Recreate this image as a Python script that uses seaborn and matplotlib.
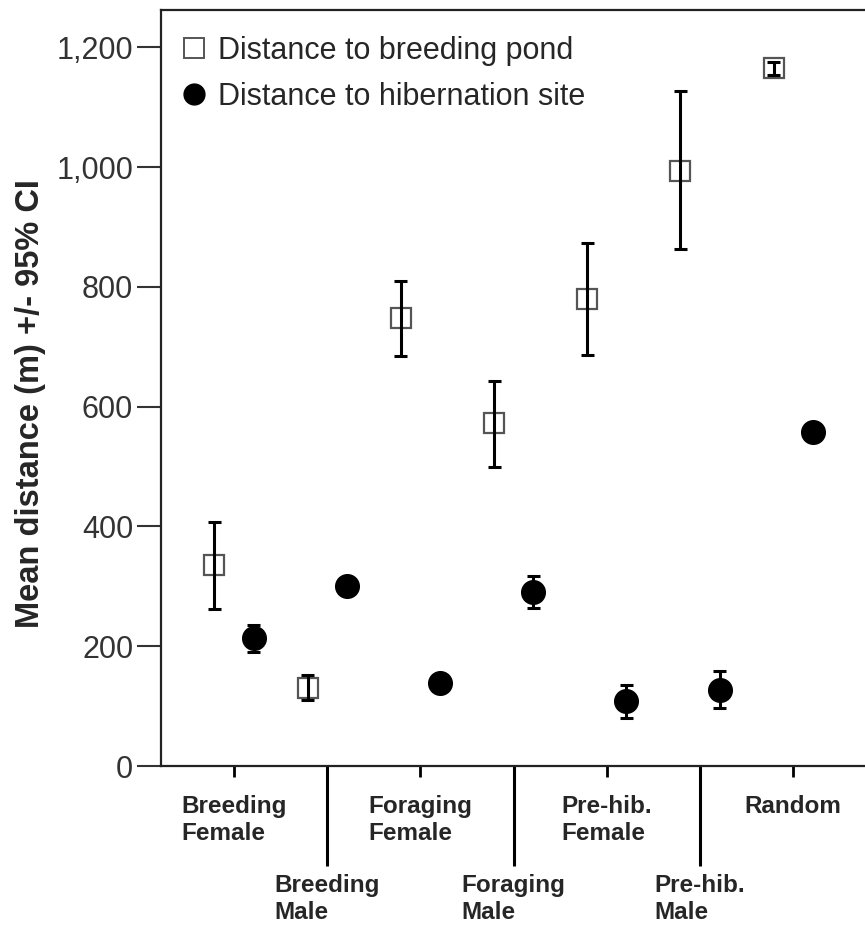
import numpy as np
import pandas as pd
import seaborn as sns
import matplotlib
matplotlib.use("Agg")
import matplotlib.pyplot as plt
from matplotlib.lines import Line2D
from matplotlib.ticker import FuncFormatter, FixedLocator

categories = ["Breeding\nFemale", "Breeding\nMale", "Foraging\nFemale", "Foraging\nMale",
              "Pre-hib.\nFemale", "Pre-hib.\nMale", "Random"]
series = ["Distance to breeding pond", "Distance to hibernation site"]

pond_mean = [335, 131, 748, 572, 780, 993, 1165]
pond_lo = [262, 110, 685, 500, 687, 863, 1153]
pond_hi = [408, 152, 810, 642, 873, 1127, 1175]

hib_mean = [213, 300, 138, 290, 108, 127, 558]
hib_lo = [190, 292, 128, 263, 80, 97, 552]
hib_hi = [235, 308, 148, 317, 135, 158, 564]

yticks = [0, 200, 400, 600, 800, 1000, 1200]

rows = []
for i, c in enumerate(categories):
    for s, lo, m, hi in [(series[0], pond_lo, pond_mean, pond_hi),
                         (series[1], hib_lo, hib_mean, hib_hi)]:
        for v in (lo[i], m[i], hi[i]):
            rows.append({"cat": c, "series": s, "value": v})
df = pd.DataFrame(rows)

sns.set_theme(style="white")
plt.rcParams["font.family"] = ["Liberation Sans", "DejaVu Sans"]

W, H = 865, 940
L, R, T, B = 161, 865, 9.5, 766
fig = plt.figure(figsize=(W / 100, H / 100), dpi=100)
ax = fig.add_axes([L / W, (H - B) / H, (R - L) / W, (B - T) / H])

sns.pointplot(data=df, x="cat", y="value", hue="series", order=categories, hue_order=series,
              estimator=np.median, errorbar=("pi", 100), palette=["black", "black"],
              markers=["s", "o"], linestyle="none", dodge=0.42, capsize=0.14,
              err_kws={"linewidth": 2.2}, legend=False, ax=ax)

for ln in ax.lines:
    mk = ln.get_marker()
    if mk == "s":
        ln.set_markerfacecolor("white")
        ln.set_markeredgecolor("#555555")
        ln.set_markeredgewidth(1.6)
        ln.set_markersize(14.5)
        ln.set_zorder(3)
    elif mk == "o":
        ln.set_markerfacecolor("black")
        ln.set_markeredgecolor("black")
        ln.set_markersize(16)
        ln.set_zorder(3)
    else:
        ln.set_solid_capstyle("butt")
        ln.set_zorder(4)

ax.set_xlim(-0.783, 6.77)
ax.set_ylim(0, 1263)

ax.yaxis.set_major_locator(FixedLocator(yticks))
ax.yaxis.set_major_formatter(FuncFormatter(lambda v, p: f"{int(v):,}"))
ax.tick_params(axis="y", which="major", direction="out", length=17, width=1.5,
               color="#333333", labelsize=22, labelcolor="#333333", pad=3, left=True)

major_idx = [0, 2, 4, 6]
minor_idx = [1, 3, 5]
ax.set_xticks(major_idx)
ax.set_xticklabels([categories[i] for i in major_idx])
ax.set_xticks(minor_idx, minor=True)
ax.set_xticklabels([categories[i] for i in minor_idx], minor=True)
for t in ax.get_xticklabels(which="major") + ax.get_xticklabels(which="minor"):
    t.set_fontsize(17.5)
    t.set_fontweight("bold")
    t.set_linespacing(1.2)
    t.set_verticalalignment("top")
    t.set_multialignment("left")
ax.tick_params(axis="x", which="major", direction="out", length=8, width=2,
               color="black", pad=13, bottom=True)
ax.tick_params(axis="x", which="minor", direction="out", length=72, width=2.2,
               color="black", pad=6, bottom=True)

ax.set_xlabel("")
ax.set_ylabel("Mean distance (m) +/- 95% CI", fontsize=23.5, fontweight="bold")
ax.yaxis.set_label_coords((46 - L) / (R - L), (B - 404) / (B - T))

for side in ["left", "top", "bottom"]:
    ax.spines[side].set_color("#222222")
    ax.spines[side].set_linewidth(1.6)
ax.spines["right"].set_visible(False)

handles = [Line2D([], [], marker="s", linestyle="none", markerfacecolor="white",
                  markeredgecolor="#555555", markeredgewidth=1.4, markersize=14),
           Line2D([], [], marker="o", linestyle="none", markerfacecolor="black",
                  markeredgecolor="black", markersize=15)]
ax.legend(handles, series, loc="upper left", frameon=False, fontsize=22,
          handletextpad=0.28, labelspacing=0.52, borderaxespad=0.3, handlelength=1.0,
          bbox_to_anchor=(-0.005, 0.993))

fig.savefig("out.png", dpi=100)
